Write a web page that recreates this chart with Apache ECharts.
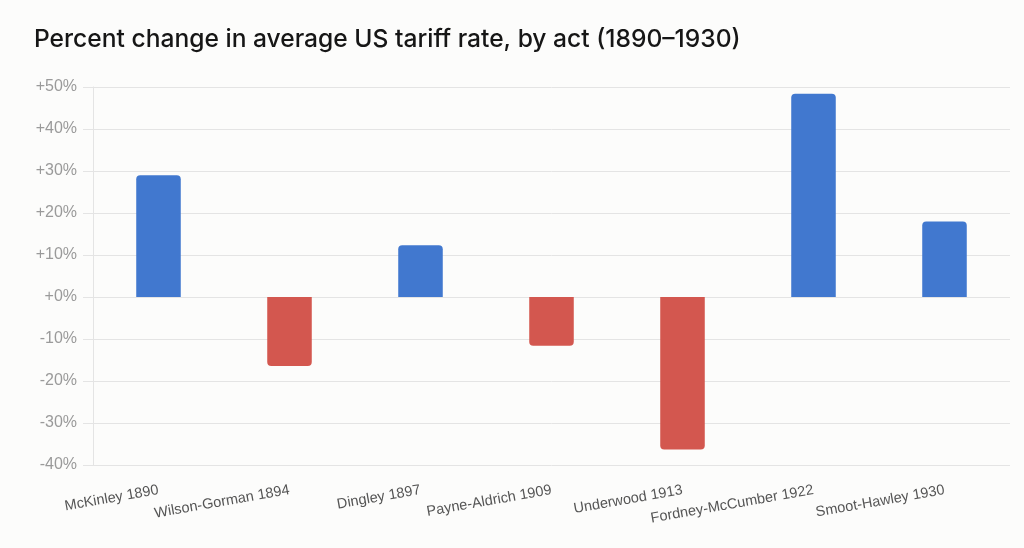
<!DOCTYPE html>
<html>
<head>
<meta charset="utf-8">
<script src="https://cdn.jsdelivr.net/npm/echarts@6/dist/echarts.min.js"></script>
<style>
html, body { margin: 0; padding: 0; background: #fcfcfb; }
#chart { width: 1024px; height: 548px; }
</style>
</head>
<body>
<div id="chart"></div>
<script>
// tariff acts and % change in average rate
var acts = ['McKinley 1890', 'Wilson-Gorman 1894', 'Dingley 1897', 'Payne-Aldrich 1909',
    'Underwood 1913', 'Fordney-McCumber 1922', 'Smoot-Hawley 1930']
var change = [29, -16.4, 12.3, -11.6, -36.3, 48.4, 18]

var blue = '#4178cf'
var red = '#d3574f'

var option = {
    backgroundColor: '#fcfcfb',
    animation: false,
    title: {
        text: 'Percent change in average US tariff rate, by act (1890\u20131930)',
        left: 29,
        top: 22,
        textStyle: {
            fontFamily: 'Inter',
            fontSize: 24.6,
            fontWeight: 500,
            color: '#161616'
        }
    },
    grid: {
        left: 93,
        right: 14,
        top: 87,
        bottom: 83,
        containLabel: false
    },
    xAxis: {
        type: 'category',
        data: acts,
        axisLine: { show: false },
        axisTick: { show: false },
        axisLabel: {
            interval: 0,
            rotate: 10,
            margin: 25,
            color: '#555',
            fontSize: 14.5,
            fontFamily: 'Liberation Sans'
        }
    },
    yAxis: {
        type: 'value',
        min: -40,
        max: 50,
        interval: 10,
        axisLine: { show: true, lineStyle: { color: '#e4e4e4' } },
        axisTick: { show: true, length: 10, lineStyle: { color: '#e4e4e4' } },
        splitLine: { lineStyle: { color: '#e4e4e4', width: 1 } },
        axisLabel: {
            margin: 16,
            color: '#9a9a9a',
            fontSize: 16,
            fontFamily: 'Liberation Sans',
            formatter: function (v) {
                return (v >= 0 ? '+' : '') + v + '%'
            }
        }
    },
    series: [
        {
            type: 'bar',
            barWidth: '34%',
            data: change.map(function (v) {
                return {
                    value: v,
                    itemStyle: {
                        color: v >= 0 ? blue : red,
                        borderRadius: v >= 0 ? [4, 4, 0, 0] : [0, 0, 4, 4]
                    }
                }
            })
        }
    ]
}

var chart = echarts.init(document.getElementById('chart'), null, {renderer: 'canvas'})
chart.setOption(option)
</script>
</body>
</html>
